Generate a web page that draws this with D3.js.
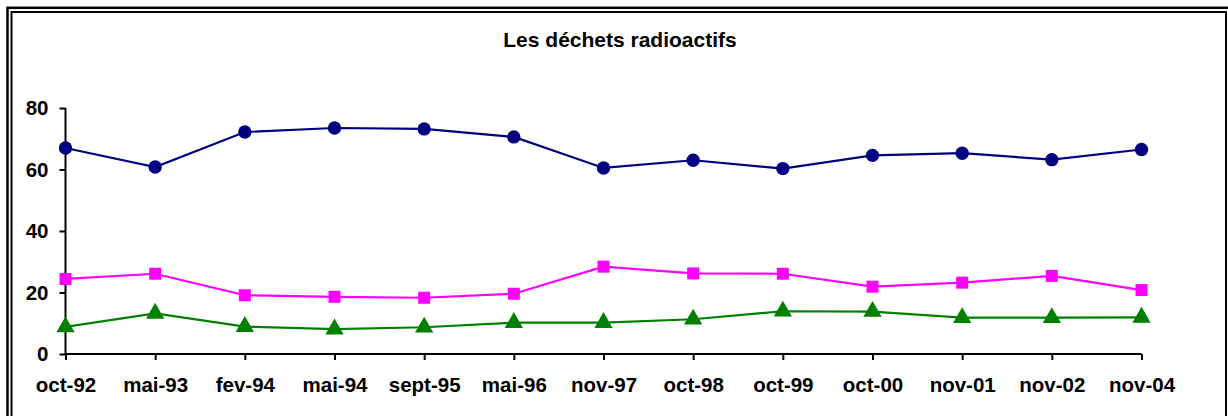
<!DOCTYPE html>
<html>
<head>
<meta charset="utf-8">
<script src="https://cdn.jsdelivr.net/npm/d3@7"></script>
<style>
  html, body { margin: 0; padding: 0; background: #fff; }
  svg { display: block; font-family: Arial, "Liberation Sans", sans-serif; }
</style>
</head>
<body>
<svg id="chart" width="1228" height="416"></svg>
<script>
// Survey dates (x categories)
const categories = ["oct-92", "mai-93", "fev-94", "mai-94", "sept-95", "mai-96", "nov-97",
                    "oct-98", "oct-99", "oct-00", "nov-01", "nov-02", "nov-04"];
// Series values (%)
const seriesNavy    = [67.0, 60.8, 72.2, 73.5, 73.2, 70.6, 60.5, 63.0, 60.3, 64.6, 65.3, 63.2, 66.5];
const seriesMagenta = [24.4, 26.1, 19.1, 18.6, 18.3, 19.6, 28.4, 26.2, 26.1, 21.9, 23.2, 25.4, 20.8];
const seriesGreen   = [8.8, 13.2, 8.9, 8.1, 8.7, 10.2, 10.2, 11.3, 13.9, 13.8, 11.8, 11.8, 11.9];
// Value axis ticks
const yTicks = [0, 20, 40, 60, 80];
const title = "Les déchets radioactifs";

const svg = d3.select("#chart");

// Double frame around the chart area
svg.append("rect").attr("x", 7.5).attr("y", 7.8).attr("width", 1240).attr("height", 430)
  .attr("fill", "none").attr("stroke", "#000").attr("stroke-width", 2.5);
svg.append("rect").attr("x", 11.5).attr("y", 12).attr("width", 1214.5).attr("height", 430)
  .attr("fill", "none").attr("stroke", "#000").attr("stroke-width", 2);

const x = d3.scalePoint().domain(categories).range([65.5, 1141.5]);
const y = d3.scaleLinear().domain([0, 80]).range([354, 108]);

// Title
svg.append("text")
  .attr("x", 620).attr("y", 47)
  .attr("text-anchor", "middle")
  .attr("font-size", 21).attr("font-weight", "bold")
  .text(title);

// Y axis
const yAxis = svg.append("g")
  .attr("transform", "translate(65.5,0)")
  .call(d3.axisLeft(y).tickValues(yTicks).tickSize(6).tickPadding(11).tickFormat(d3.format("d")));
// X axis
const xAxis = svg.append("g")
  .attr("transform", "translate(0,354)")
  .call(d3.axisBottom(x).tickSize(6).tickPadding(17.5));

[yAxis, xAxis].forEach(g => {
  g.select(".domain").attr("stroke", "#000").attr("stroke-width", 2);
  g.selectAll(".tick line").attr("stroke", "#000").attr("stroke-width", 2);
  g.selectAll(".tick text").attr("fill", "#000").attr("font-size", 20.5).attr("font-weight", "bold")
    .attr("font-family", "Arial, 'Liberation Sans', sans-serif");
});
// axis lines without outer tick caps
xAxis.select(".domain").attr("d", `M${x.range()[0]},0H${x.range()[1]}`);
yAxis.select(".domain").attr("d", `M0,${y(0)}V${y(80)}`);

const line = d3.line().x((d, i) => x(categories[i])).y(d => y(d));

function drawSeries(values, color, shape, size) {
  const g = svg.append("g");
  g.append("path").datum(values)
    .attr("d", line).attr("fill", "none").attr("stroke", color).attr("stroke-width", 2.2);
  g.selectAll("path.mark").data(values).join("path")
    .attr("class", "mark")
    .attr("transform", (d, i) => `translate(${x(categories[i])},${y(d)})`)
    .attr("d", d3.symbol().type(shape).size(size))
    .attr("fill", color);
}

drawSeries(seriesNavy, "#000080", d3.symbolCircle, 140);
drawSeries(seriesMagenta, "#FF00FF", d3.symbolSquare, 144);
drawSeries(seriesGreen, "#008000", d3.symbolTriangle, 145);
</script>
</body>
</html>
